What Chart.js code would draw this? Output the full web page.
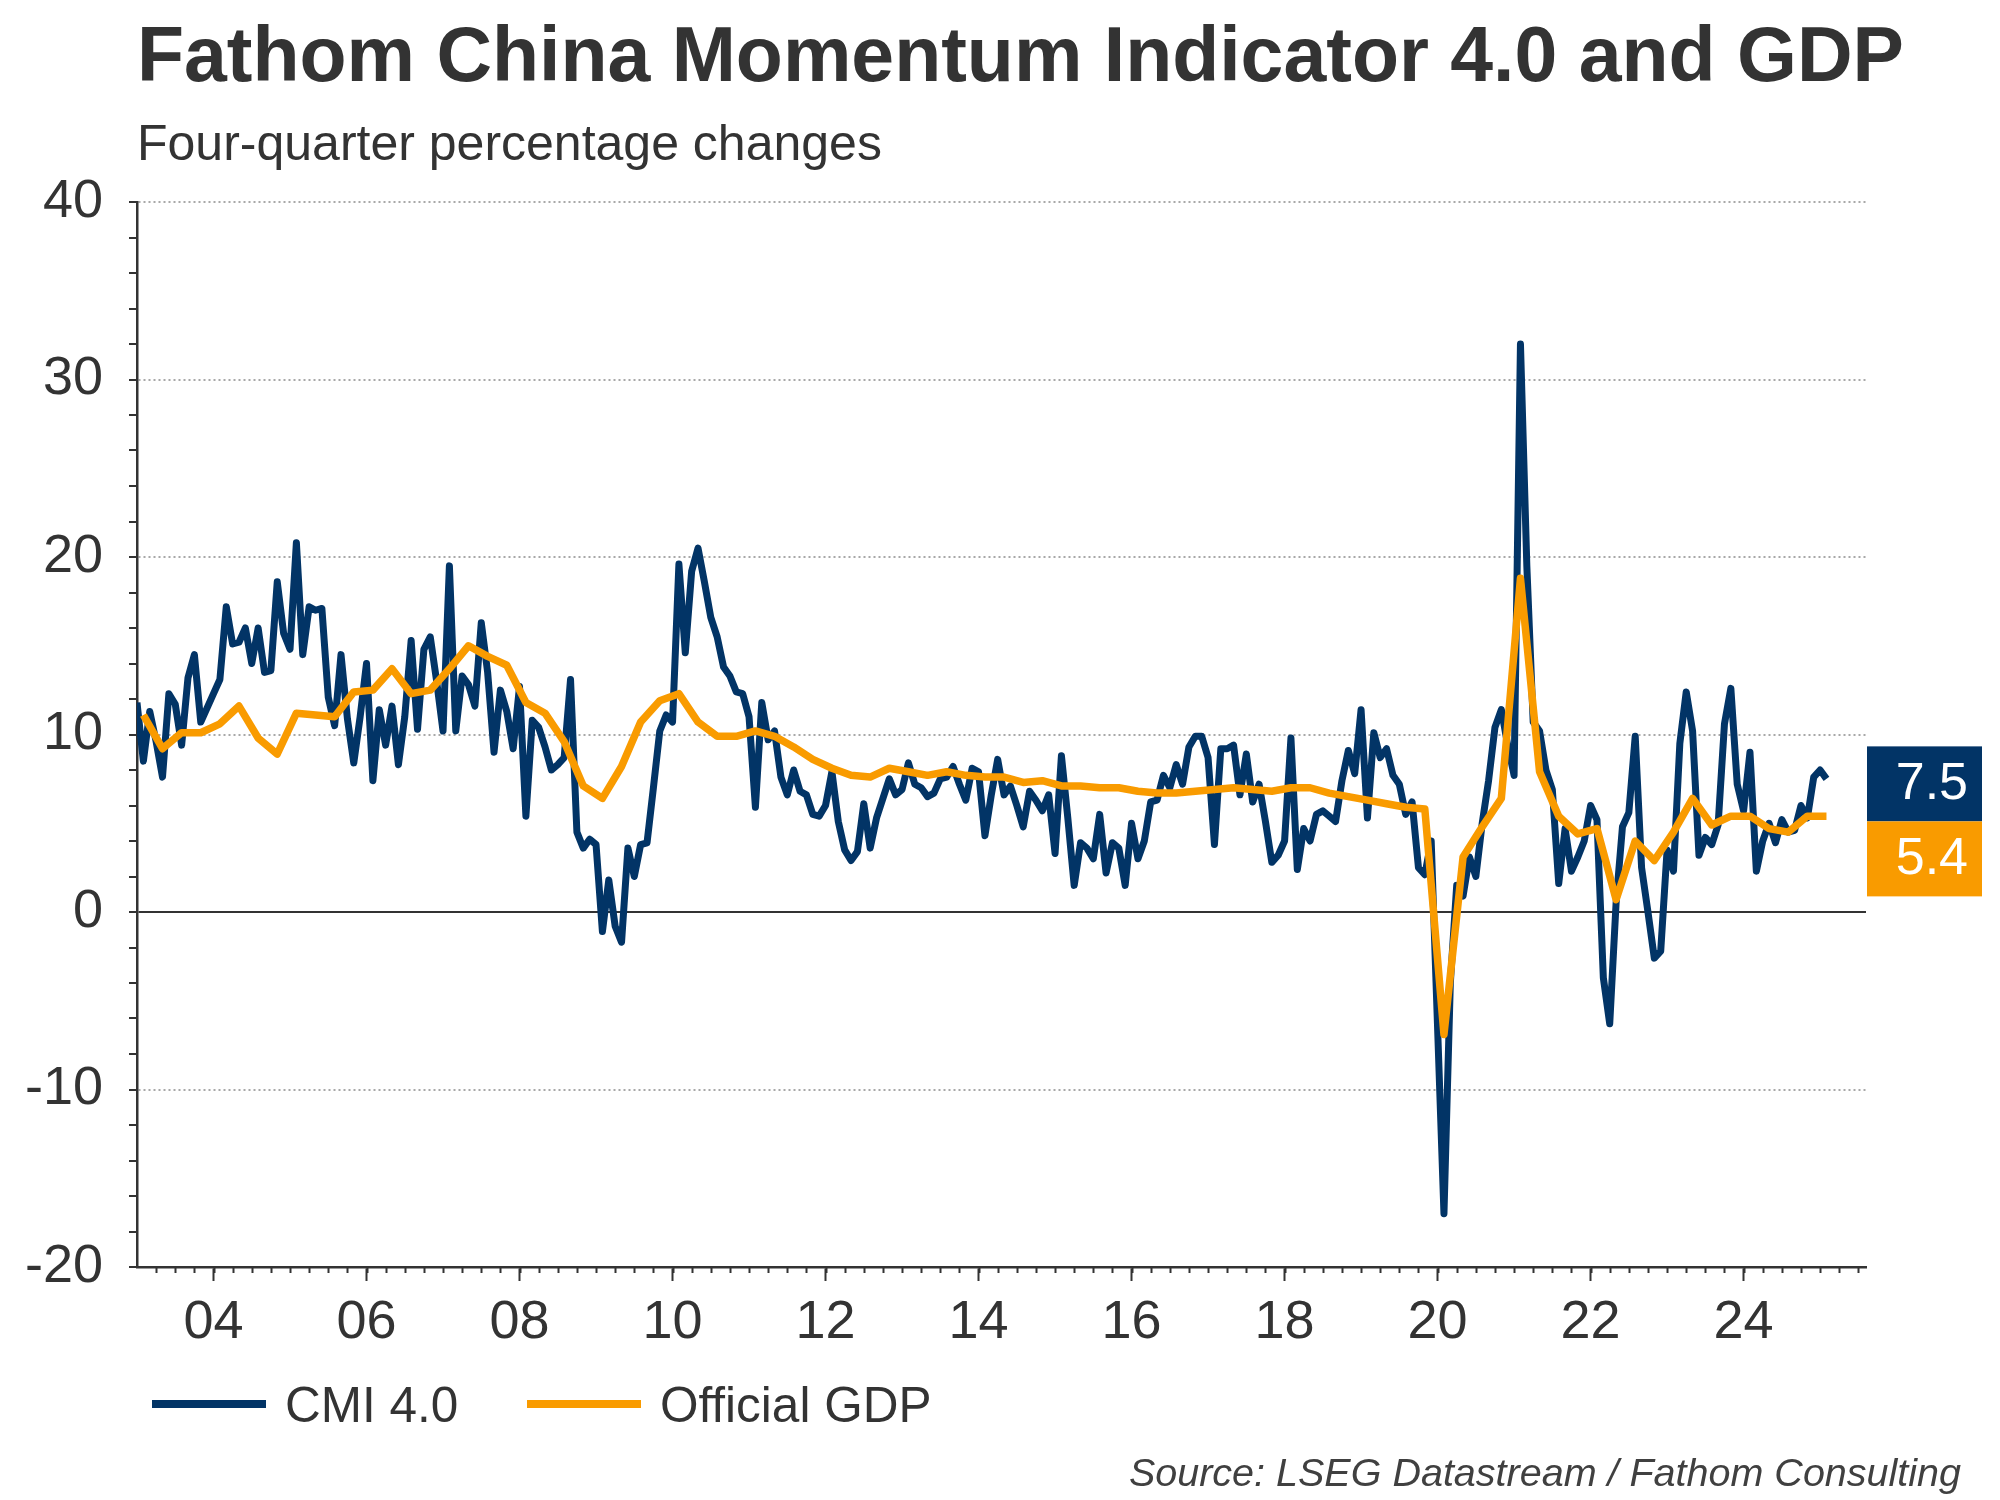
<!DOCTYPE html>
<html>
<head>
<meta charset="utf-8">
<script src="https://cdn.jsdelivr.net/npm/chart.js@4.4.1/dist/chart.umd.min.js"></script>
<style>
  html, body { margin: 0; padding: 0; background: #ffffff; }
  #wrap { width: 2000px; height: 1500px; position: relative; }
  canvas { display: block; }
</style>
</head>
<body>
<div id="wrap"><canvas id="c" width="2000" height="1500" style="width:2000px;height:1500px"></canvas></div>
<script>
// ---------------- DATA ----------------
const titleText = 'Fathom China Momentum Indicator 4.0 and GDP';
const subtitleText = 'Four-quarter percentage changes';
const sourceText = 'Source: LSEG Datastream / Fathom Consulting';
const seriesNames = ['CMI 4.0', 'Official GDP'];

// CMI 4.0, monthly, first value = January 2003
const cmiStartYear = 2003;
const cmiValues = [
  11.8, 8.5, 11.3, 9.6, 7.6, 12.3, 11.7, 9.4, 13.2, 14.5, 10.7, 11.5,   // 2003
  12.3, 13.1, 17.2, 15.1, 15.2, 16.0, 14.0, 16.0, 13.5, 13.6, 18.6, 15.7, // 2004
  14.8, 20.8, 14.5, 17.2, 17.0, 17.1, 12.1, 10.5, 14.5, 10.9, 8.4, 11.0,  // 2005
  14.0, 7.4, 11.4, 9.4, 11.6, 8.3, 11.0, 15.3, 10.3, 14.8, 15.5, 13.0,    // 2006
  10.2, 19.5, 10.2, 13.3, 12.8, 11.6, 16.3, 13.5, 9.0, 12.5, 11.3, 9.2,   // 2007
  12.7, 5.4, 10.8, 10.4, 9.3, 8.0, 8.3, 8.7, 13.1, 4.5, 3.6, 4.1,         // 2008
  3.8, -1.1, 1.8, -0.8, -1.7, 3.6, 2.0, 3.8, 3.9, 7.0, 10.2, 11.1,        // 2009
  10.7, 19.6, 14.6, 19.2, 20.5, 18.6, 16.6, 15.5, 13.8, 13.3, 12.4, 12.3, // 2010
  11.0, 5.9, 11.8, 9.7, 10.2, 7.6, 6.6, 8.0, 6.8, 6.6, 5.5, 5.4,          // 2011
  6.0, 7.9, 5.1, 3.5, 2.9, 3.4, 6.1, 3.6, 5.3, 6.4, 7.5, 6.6,             // 2012
  6.9, 8.4, 7.2, 7.0, 6.5, 6.7, 7.5, 7.6, 8.2, 7.2, 6.3, 8.1,             // 2013
  7.9, 4.3, 6.6, 8.6, 6.6, 7.1, 6.0, 4.8, 6.8, 6.3, 5.7, 6.6,             // 2014
  3.3, 8.8, 5.3, 1.5, 3.9, 3.6, 3.0, 5.5, 2.2, 3.9, 3.6, 1.5,             // 2015
  5.0, 3.0, 4.0, 6.2, 6.3, 7.7, 7.0, 8.3, 7.2, 9.3, 9.9, 9.9,             // 2016
  8.7, 3.8, 9.2, 9.2, 9.4, 6.6, 8.9, 6.2, 7.2, 5.1, 2.8, 3.2,             // 2017
  4.0, 9.8, 2.4, 4.7, 4.0, 5.5, 5.7, 5.4, 5.1, 7.4, 9.1, 7.8,             // 2018
  11.4, 5.3, 10.1, 8.7, 9.2, 7.7, 7.2, 5.5, 6.2, 2.5, 2.1, 4.0,           // 2019
  -6.5, -17.0, -4.0, 1.5, 0.9, 3.1, 2.0, 5.0, 7.4, 10.4, 11.4, 9.4,       // 2020
  7.7, 32.0, 19.5, 10.7, 10.2, 8.0, 6.9, 1.6, 4.7, 2.3, 3.1, 4.0,         // 2021
  6.0, 5.2, -3.7, -6.3, 0.5, 4.8, 5.6, 9.9, 2.5, 0.0, -2.6, -2.2,         // 2022
  3.5, 2.3, 9.5, 12.4, 10.2, 3.2, 4.2, 3.8, 4.9, 10.6, 12.6, 7.2,         // 2023
  5.7, 9.0, 2.3, 4.0, 5.0, 3.9, 5.2, 4.5, 4.6, 6.0, 5.3, 7.6,             // 2024
  8.0, 7.5                                                                // 2025
];

// Official GDP, quarterly, first value = 2003 Q1
const gdpStartYear = 2003;
const gdpValues = [
  11.1, 9.2, 10.1, 10.1,   // 2003
  10.6, 11.6, 9.8, 8.9,    // 2004
  11.2, 11.1, 11.0, 12.4,  // 2005
  12.5, 13.7, 12.3, 12.5,  // 2006
  13.7, 15.0, 14.4, 13.9,  // 2007
  11.8, 11.2, 9.6, 7.1,    // 2008
  6.4, 8.2, 10.7, 11.9,    // 2009
  12.3, 10.7, 9.9, 9.9,    // 2010
  10.2, 9.9, 9.3, 8.6,     // 2011
  8.1, 7.7, 7.6, 8.1,      // 2012
  7.9, 7.7, 7.9, 7.7,      // 2013
  7.6, 7.6, 7.3, 7.4,      // 2014
  7.1, 7.1, 7.0, 7.0,      // 2015
  6.8, 6.7, 6.7, 6.8,      // 2016
  6.9, 7.0, 6.9, 6.8,      // 2017
  7.0, 7.0, 6.7, 6.5,      // 2018
  6.3, 6.1, 5.9, 5.8,      // 2019
  -6.9, 3.1, 4.8, 6.4,     // 2020
  18.8, 7.9, 5.4, 4.4,     // 2021
  4.7, 0.7, 4.0, 2.9,      // 2022
  4.5, 6.4, 4.9, 5.4,      // 2023
  5.4, 4.7, 4.5, 5.4,      // 2024
  5.4                      // 2025
];

// axis ticks
const yTickValues = [-20, -10, 0, 10, 20, 30, 40];
const xTickYears = [2004, 2006, 2008, 2010, 2012, 2014, 2016, 2018, 2020, 2022, 2024];
const xTickLabels = ['04', '06', '08', '10', '12', '14', '16', '18', '20', '22', '24'];

// ---------------- STYLE ----------------
const NAVY = '#023466';
const ORANGE = '#F99B00';
const TEXT = '#333333';
const FONT = "'Liberation Sans', Arial, sans-serif";

const cmiPoints = cmiValues.map((v, i) => ({ x: cmiStartYear + i / 12, y: v }));
const gdpPoints = gdpValues.map((v, i) => ({ x: gdpStartYear + (3 * i + 1) / 12, y: v }));

const overlay = {
  id: 'overlay',
  afterDraw(chart) {
    const { ctx, chartArea, scales } = chart;
    const x = scales.x, y = scales.y;
    ctx.save();
    // minor quarterly ticks on x axis
    ctx.strokeStyle = TEXT;
    ctx.lineWidth = 2;
    const xmin = x.min, xmax = x.max;
    for (let q = Math.ceil(xmin * 4); q / 4 <= xmax; q++) {
      const v = q / 4;
      if (v <= xmin) continue;
      const px = Math.round(x.getPixelForValue(v)) + 0.5;
      ctx.beginPath();
      ctx.moveTo(px, chartArea.bottom);
      ctx.lineTo(px, chartArea.bottom + 6);
      ctx.stroke();
    }
    // title + subtitle
    ctx.fillStyle = TEXT;
    ctx.textBaseline = 'alphabetic';
    ctx.textAlign = 'left';
    ctx.font = 'bold 77px ' + FONT;
    ctx.fillText(titleText, 137, 81);
    ctx.font = '50px ' + FONT;
    ctx.fillText(subtitleText, 137, 160);
    // legend
    const ds = chart.data.datasets;
    const legendItems = [
      { x0: 152, x1: 266, tx: 285 },
      { x0: 527, x1: 641, tx: 660 }
    ];
    legendItems.forEach((it, i) => {
      ctx.fillStyle = ds[i].borderColor;
      ctx.fillRect(it.x0, 1400, it.x1 - it.x0, 8);
      ctx.fillStyle = TEXT;
      ctx.font = '49.5px ' + FONT;
      ctx.fillText(ds[i].label, it.tx, 1422);
    });
    // source
    ctx.font = 'italic 39.5px ' + FONT;
    ctx.fillStyle = '#404040';
    ctx.textAlign = 'right';
    ctx.fillText(sourceText, 1961, 1486);
    // end-value labels
    const lastCmi = cmiValues[cmiValues.length - 1];
    const lastGdp = gdpValues[gdpValues.length - 1];
    const bx = 1867, bw = 115, bh = 75;
    let top1 = y.getPixelForValue(lastCmi) - bh / 2 + 5;
    let top2 = y.getPixelForValue(lastGdp) - bh / 2;
    if (top2 < top1 + bh) top2 = top1 + bh;
    ctx.fillStyle = NAVY;
    ctx.fillRect(bx, top1, bw, bh);
    ctx.fillStyle = ORANGE;
    ctx.fillRect(bx, top2, bw, bh);
    ctx.fillStyle = '#ffffff';
    ctx.font = '52px ' + FONT;
    ctx.textAlign = 'right';
    ctx.fillText(lastCmi.toFixed(1), 1968, top1 + 53);
    ctx.fillText(lastGdp.toFixed(1), 1968, top2 + 53);
    ctx.restore();
  }
};

new Chart(document.getElementById('c'), {
  type: 'line',
  data: {
    datasets: [
      { label: seriesNames[0], data: cmiPoints, borderColor: NAVY, backgroundColor: NAVY,
        borderWidth: 7, borderJoinStyle: 'round', borderCapStyle: 'butt',
        pointRadius: 0, tension: 0, order: 2 },
      { label: seriesNames[1], data: gdpPoints, borderColor: ORANGE, backgroundColor: ORANGE,
        borderWidth: 7.5, borderJoinStyle: 'round', borderCapStyle: 'butt',
        pointRadius: 0, tension: 0, order: 1 }
    ]
  },
  options: {
    responsive: false,
    devicePixelRatio: 1,
    animation: false,
    events: [],
    layout: { padding: { left: 0, top: 202, right: 134, bottom: 123 } },
    plugins: { legend: { display: false }, title: { display: false }, tooltip: { enabled: false } },
    scales: {
      x: {
        type: 'linear',
        min: 2003,
        max: 2025.6,
        afterBuildTicks: (scale) => {
          scale.ticks = xTickYears.map(v => ({ value: v }));
        },
        afterFit: (scale) => { scale.height = 110; },
        ticks: {
          autoSkip: false,
          maxRotation: 0,
          padding: 10,
          color: TEXT,
          font: { family: FONT, size: 54 },
          callback: (v) => {
            const i = xTickYears.indexOf(v);
            return i >= 0 ? xTickLabels[i] : '';
          }
        },
        grid: { drawOnChartArea: false, drawTicks: true, tickLength: 14, tickWidth: 2, tickColor: TEXT },
        border: { display: true, color: TEXT, width: 2.5 }
      },
      y: {
        min: -20,
        max: 40,
        afterFit: (scale) => { scale.width = 137; },
        ticks: {
          stepSize: 2,
          autoSkip: false,
          padding: 26,
          color: TEXT,
          font: { family: FONT, size: 54 },
          callback: (v) => (yTickValues.includes(v) ? String(v) : '')
        },
        grid: {
          drawOnChartArea: true,
          tickLength: 8,
          tickWidth: 2,
          tickColor: TEXT,
          lineWidth: 2,
          color: (c) => {
            const v = c.tick ? c.tick.value : null;
            if (v === 0) return TEXT;
            if (v === -20) return 'rgba(0,0,0,0)';
            if (yTickValues.includes(v)) return '#a8a8a8';
            return 'rgba(0,0,0,0)';
          }
        },
        border: {
          display: true, color: TEXT, width: 2.5,
          dash: (c) => (c.tick && c.tick.value === 0 ? [] : [2, 3])
        }
      }
    }
  },
  plugins: [overlay]
});
</script>
</body>
</html>
